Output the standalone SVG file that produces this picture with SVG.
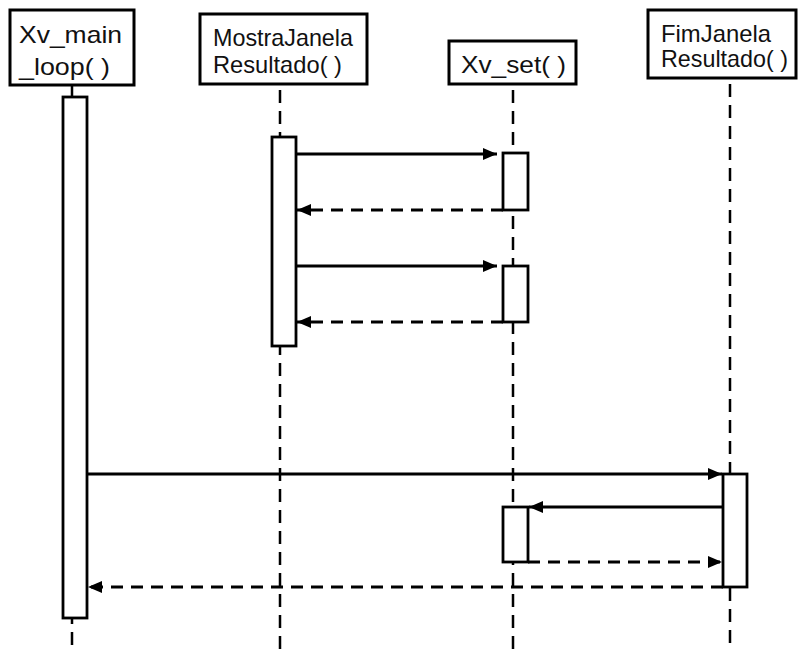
<svg xmlns="http://www.w3.org/2000/svg" width="800" height="649" viewBox="0 0 800 649">
  <style>
    .box { fill: #ffffff; stroke: #000000; stroke-width: 3; }
    .bar { fill: #ffffff; stroke: #000000; stroke-width: 2.8; }
    .life { stroke: #000000; stroke-width: 2.5; stroke-dasharray: 13 8; fill: none; }
    .msg { stroke: #000000; stroke-width: 2.8; fill: none; marker-end: url(#arrow); }
    .ret { stroke: #000000; stroke-width: 2.8; fill: none; stroke-dasharray: 12 8; marker-end: url(#arrow); }
    .lbl { font-family: "Liberation Sans", Arial, sans-serif; font-size: 24px; fill: #111111; }
  </style>
  <defs>
    <marker id="arrow" markerUnits="userSpaceOnUse" markerWidth="15" markerHeight="13" refX="14" refY="6" orient="auto">
      <path d="M0,0 L14,6 L0,12 z" fill="#000000"/>
    </marker>
  </defs>
  <rect width="800" height="649" fill="#ffffff"/>

  <g id="lifelines">
    <line class="life" x1="72" y1="86" x2="72" y2="649"/>
    <line class="life" x1="280" y1="90" x2="280" y2="649"/>
    <line class="life" x1="513" y1="90" x2="513" y2="649"/>
    <line class="life" x1="730" y1="84" x2="730" y2="649"/>
  </g>

  <g id="node-xv-main-loop">
    <rect class="box" x="10" y="10" width="124" height="75"/>
    <text class="lbl" x="19" y="43" textLength="103" lengthAdjust="spacingAndGlyphs">Xv_main</text>
    <text class="lbl" x="19" y="75" textLength="91" lengthAdjust="spacingAndGlyphs">_loop( )</text>
    <rect class="bar" x="63" y="97" width="24" height="521"/>
  </g>

  <g id="node-mostra-janela">
    <rect class="box" x="200" y="14" width="167" height="70"/>
    <text class="lbl" x="213" y="46" textLength="140" lengthAdjust="spacingAndGlyphs">MostraJanela</text>
    <text class="lbl" x="213" y="73" textLength="129" lengthAdjust="spacingAndGlyphs">Resultado( )</text>
    <rect class="bar" x="272" y="137" width="24" height="209"/>
  </g>

  <g id="node-xv-set">
    <rect class="box" x="449" y="41" width="127" height="43"/>
    <text class="lbl" x="461" y="73" textLength="105" lengthAdjust="spacingAndGlyphs">Xv_set( )</text>
    <rect class="bar" x="503" y="153" width="25" height="57"/>
    <rect class="bar" x="503" y="266" width="25" height="56"/>
    <rect class="bar" x="503" y="507" width="25" height="55"/>
  </g>

  <g id="node-fim-janela">
    <rect class="box" x="648" y="10" width="148" height="68"/>
    <text class="lbl" x="661" y="42" textLength="110" lengthAdjust="spacingAndGlyphs">FimJanela</text>
    <text class="lbl" x="661" y="67" textLength="127" lengthAdjust="spacingAndGlyphs">Resultado( )</text>
    <rect class="bar" x="723" y="474" width="24" height="113"/>
  </g>

  <g id="connectors">
    <line class="msg" x1="296" y1="154" x2="497" y2="154"/>
    <line class="ret" x1="503" y1="210" x2="297" y2="210"/>
    <line class="msg" x1="296" y1="266" x2="497" y2="266"/>
    <line class="ret" x1="503" y1="322" x2="297" y2="322"/>
    <line class="msg" x1="87" y1="474" x2="722" y2="474"/>
    <line class="msg" x1="723" y1="507" x2="529" y2="507"/>
    <line class="ret" x1="528" y1="562" x2="722" y2="562"/>
    <line class="ret" x1="723" y1="587" x2="88" y2="587"/>
  </g>
</svg>
